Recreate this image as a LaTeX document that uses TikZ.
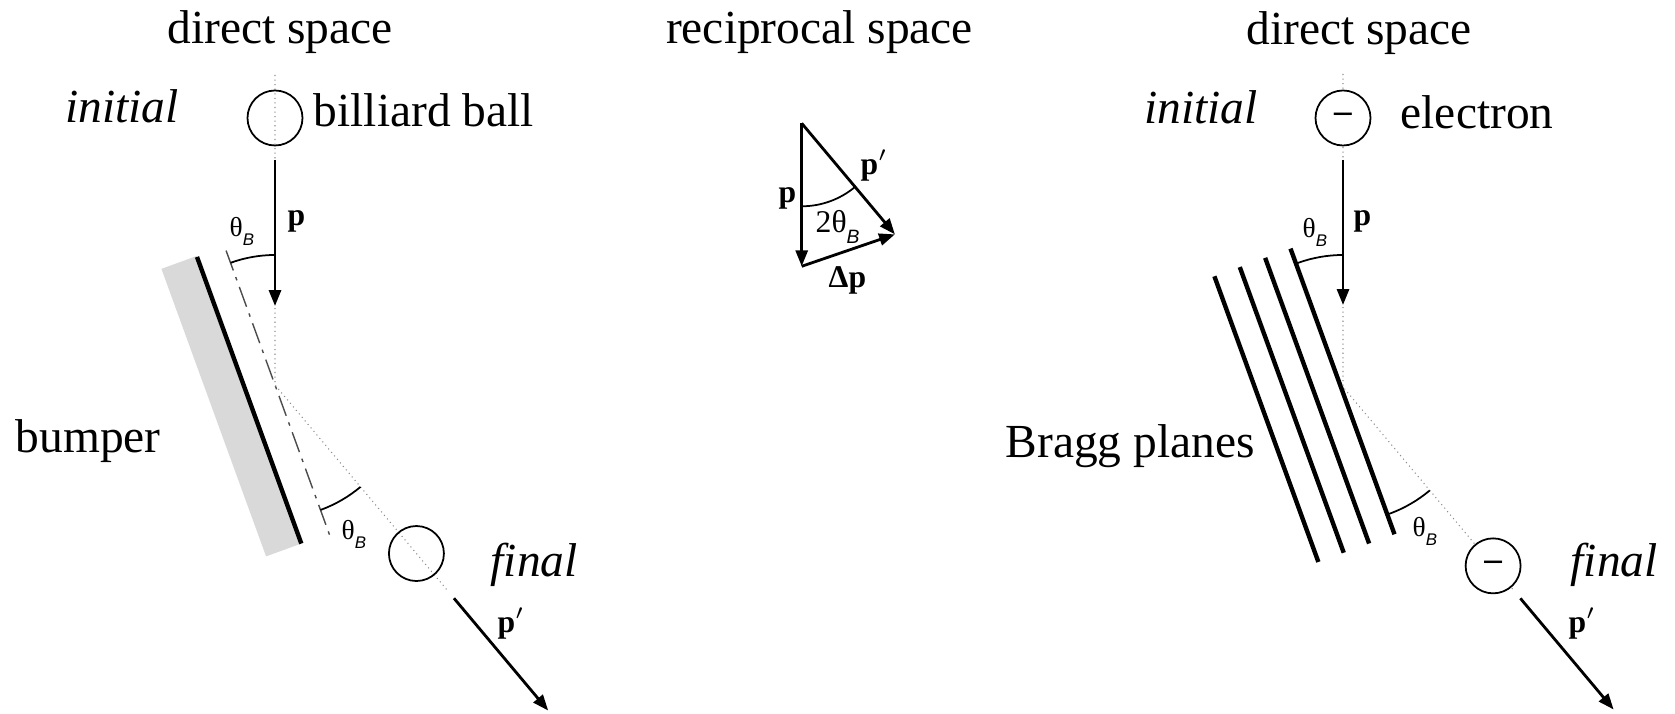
\documentclass[tikz,border=0pt]{standalone}
\usepackage{fontspec}
\setmainfont{Liberation Serif}
\newfontfamily\labelsans{Liberation Sans}
\usepackage{tikz}
\usetikzlibrary{positioning,arrows.meta,calc}
\newcommand{\thB}[1]{θ\raisebox{-0.32em}{\fontsize{#1}{#1}\selectfont\labelsans\itshape B}}

\begin{document}
\begin{tikzpicture}[
  txt/.style={font=\fontsize{13.5}{16}\selectfont, inner sep=0pt},
  itxt/.style={font=\fontsize{13.5}{16}\selectfont\itshape, inner sep=0pt},
  vlab/.style={font=\fontsize{9}{10}\selectfont\bfseries, inner sep=0pt},
  alab/.style={font=\fontsize{7.8}{8}\selectfont, inner sep=0pt},
  ball/.style={draw, circle, line width=0.5pt, minimum size=5.5mm, inner sep=0pt},
  elec/.style={ball, fill=white, font=\fontsize{10}{11}\selectfont\bfseries},
  vec/.style={-{Triangle[length=4.5pt,width=3.4pt]}, line width=0.8pt},
  trace/.style={densely dotted, line width=0.3pt, black!45},
  mirror/.style={line width=0.4pt, black!70, dash pattern=on 6pt off 2pt on 1pt off 2pt},
  plane/.style={line width=1.25pt},
  ang/.style={line width=0.5pt},
]
\useasboundingbox (0,0) rectangle (16.75,-7.14);

% billiard ball
\coordinate (O1) at (2.75,-3.85);
\coordinate (in1) at ($(O1)+(90:3.1)$);
\coordinate (out1) at ($(O1)+(-50:2.68)$);
\coordinate (pin1) at ($(O1)+(90:0.79)$);
\coordinate (pout1) at ($(O1)+(-50:4.25)$);
\begin{scope}[shift={(O1)}, rotate=20]
  \fill[black!15] (-0.67,1.48) -- (-0.295,1.48) -- (-0.295,-1.58) -- (-0.67,-1.58) -- cycle;
  \draw[plane] (-0.295,1.47) -- (-0.295,-1.58);
  \draw[mirror] (0,1.43) -- (0,-1.62);
\end{scope}
\draw[trace] (in1) -- (O1) -- (out1);
\node[ball] (ball0) at ($(O1)+(90:2.67)$) {};
\node[ball] (ball1) at ($(O1)+(-50:2.2)$) {};
\draw[vec] ([yshift=-1.35mm]ball0.south) -- (pin1);
\draw[vec] ([shift={(-50:0.3)}]ball1.-50) -- (pout1);
\draw[ang] ($(O1)+(90:1.3)$) arc[start angle=90, end angle=110, radius=1.3];
\draw[ang] ($(O1)+(-70:1.33)$) arc[start angle=-70, end angle=-50, radius=1.33];

\node[txt, anchor=base] (ds1) at (2.80,-0.44) {direct space};
\node[itxt, anchor=base] (ini1) at (1.22,-1.225) {initial};
\node[txt, anchor=base west] (bb) at (3.13,-1.27) {billiard ball};
\node[vlab, anchor=base west] (p1) at (2.87,-2.26) {p};
\node[alab, anchor=base west] (th1) at (2.29,-2.37) {\thB{4.8}};
\node[alab, anchor=base west] (th2) at (3.41,-5.40) {\thB{4.8}};
\node[txt, anchor=base west] (bump) at (0.15,-4.53) {bumper};
\node[itxt, anchor=base west] (fin1) at (4.90,-5.77) {final};
\node[vlab, anchor=base west] (pp1) at (4.97,-6.33) {p$'$};

% reciprocal space
\coordinate (T) at (8.017,-1.233);
\coordinate (A) at ($(T)+(0,-1.43)$);
\coordinate (B) at ($(T)+(-50:1.45)$);
\draw[vec] (T) -- (A);
\draw[vec] (T) -- (B);
\draw[vec] (A) -- (B);
\draw[ang] ($(T)+(-90:0.83)$) arc[start angle=-90, end angle=-50, radius=0.83];

\node[txt, anchor=base] (rs) at (8.195,-0.433) {reciprocal space};
\node[vlab, anchor=base west] (pk) at (7.78,-2.03) {p};
\node[vlab, anchor=base west] (ppk) at (8.60,-1.75) {p$'$};
\node[font=\fontsize{9}{10}\selectfont, inner sep=0pt, anchor=base west] (tth) at (8.15,-2.33) {2\thB{5.5}};
\node[vlab, anchor=base west] (dp) at (8.28,-2.88) {Δp};

% electron
\coordinate (O2) at (13.43,-3.87);
\coordinate (in2) at ($(O2)+(90:3.13)$);
\coordinate (out2) at ($(O2)+(-50:2.65)$);
\coordinate (pin2) at ($(O2)+(90:0.82)$);
\coordinate (pout2) at ($(O2)+(-50:4.21)$);
\begin{scope}[shift={(O2)}, rotate=20]
  \foreach \k in {0,1,2,3}
    \draw[plane] ({-0.02-0.27*\k},1.48) -- ({-0.02-0.27*\k},-1.56);
\end{scope}
\draw[trace] (in2) -- (O2) -- (out2);
\node[elec] (el0) at ($(O2)+(90:2.69)$) {–};
\node[elec] (el1) at ($(O2)+(-50:2.335)$) {–};
\draw[vec] ([yshift=-1.35mm]el0.south) -- (pin2);
\draw[vec] ([shift={(-50:0.14)}]el1.-50) -- (pout2);
\draw[ang] ($(O2)+(90:1.32)$) arc[start angle=90, end angle=110, radius=1.32];
\draw[ang] ($(O2)+(-70:1.35)$) arc[start angle=-70, end angle=-50, radius=1.35];

\node[txt, anchor=base] (ds2) at (13.59,-0.45) {direct space};
\node[itxt, anchor=base] (ini2) at (12.01,-1.24) {initial};
\node[txt, anchor=base west] (elx) at (14.00,-1.29) {electron};
\node[vlab, anchor=base west] (p2) at (13.53,-2.26) {p};
\node[alab, anchor=base west] (th3) at (13.02,-2.38) {\thB{4.8}};
\node[alab, anchor=base west] (th4) at (14.12,-5.37) {\thB{4.8}};
\node[txt, anchor=base west] (bragg) at (10.05,-4.573) {Bragg planes};
\node[itxt, anchor=base west] (fin2) at (15.70,-5.77) {final};
\node[vlab, anchor=base west] (pp2) at (15.68,-6.33) {p$'$};
\end{tikzpicture}
\end{document}
